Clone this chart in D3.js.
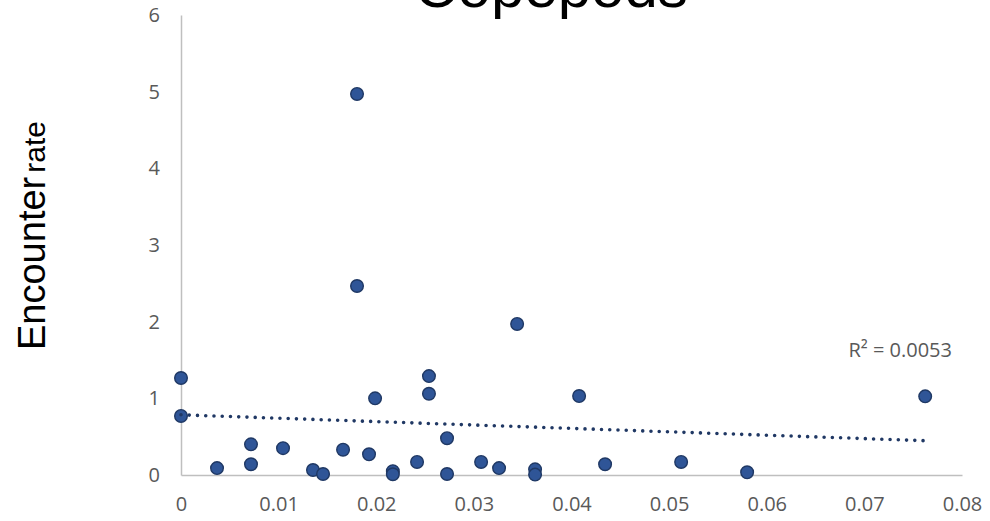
<!DOCTYPE html>
<html>
<head>
<meta charset="utf-8">
<script src="https://cdn.jsdelivr.net/npm/d3@7/dist/d3.min.js"></script>
<style>
  html, body { margin: 0; padding: 0; background: #ffffff; }
  svg { display: block; }
</style>
</head>
<body>
<div id="chart"></div>
<script>
// ---- data ----
const chartTitle = "Copepods";
const yTitleMain = "Encounter";
const yTitleSmall = "rate";
const xValues = [0, 0, 0.00369, 0.00717, 0.00717, 0.01045, 0.01352, 0.01455, 0.0166, 0.01803, 0.01803,
                 0.01926, 0.01988, 0.0217, 0.0217, 0.02418, 0.0254, 0.0254, 0.02725, 0.02725,
                 0.03074, 0.03258, 0.03443, 0.03627, 0.03627, 0.04078, 0.04344, 0.05123, 0.05799, 0.07623];
const yValues = [1.265, 0.77, 0.09, 0.40, 0.14, 0.35, 0.065, 0.013, 0.33, 4.97, 2.465,
                 0.27, 1.0, 0.05, 0.01, 0.17, 1.29, 1.06, 0.48, 0.013,
                 0.17, 0.09, 1.97, 0.074, 0.005, 1.03, 0.14, 0.17, 0.035, 1.026];
const trendX = [0, 0.07623];
const trendY = [0.785, 0.447];
const rSquaredLabel = "R\u00B2 = 0.0053";
const xTicks = [0, 0.01, 0.02, 0.03, 0.04, 0.05, 0.06, 0.07, 0.08];
const xTickLabels = ["0", "0.01", "0.02", "0.03", "0.04", "0.05", "0.06", "0.07", "0.08"];
const yTicks = [0, 1, 2, 3, 4, 5, 6];
const yTickLabels = ["0", "1", "2", "3", "4", "5", "6"];

// ---- layout ----
const W = 990, H = 521;
const plot = { left: 181, right: 962, top: 15, bottom: 475 };

const svg = d3.select("#chart").append("svg")
  .attr("width", W).attr("height", H);

const x = d3.scaleLinear().domain([0, 0.08]).range([plot.left, plot.right]);
const y = d3.scaleLinear().domain([0, 6]).range([plot.bottom, plot.top]);

const tickFont = "'Open Sans', 'Noto Sans', sans-serif";
const axisColor = "#BFBFBF";
const labelColor = "#595959";

// x axis
const xAxis = d3.axisBottom(x).tickValues(xTicks)
  .tickFormat((d, i) => xTickLabels[i]).tickSize(0).tickPadding(22);
const gx = svg.append("g").attr("transform", `translate(0,${plot.bottom})`).call(xAxis);
gx.select(".domain").attr("stroke", axisColor).attr("stroke-width", 1.5);
gx.selectAll("text").attr("fill", labelColor).style("font-family", tickFont).style("font-size", "20px");

// y axis
const yAxis = d3.axisLeft(y).tickValues(yTicks)
  .tickFormat((d, i) => yTickLabels[i]).tickSize(0).tickPadding(21);
const gy = svg.append("g").attr("transform", `translate(${plot.left},0)`).call(yAxis);
gy.select(".domain").attr("stroke", axisColor).attr("stroke-width", 1.5);
gy.selectAll("text").attr("fill", labelColor).style("font-family", tickFont).style("font-size", "20px");

// points
const pts = xValues.map((v, i) => ({ x: v, y: yValues[i] }));
svg.append("g").selectAll("circle").data(pts).join("circle")
  .attr("cx", d => x(d.x)).attr("cy", d => y(d.y)).attr("r", 6.3)
  .attr("fill", "#2F5597").attr("stroke", "#1F3864").attr("stroke-width", 1.4);

// trendline (dotted)
const trend = trendX.map((v, i) => [v, trendY[i]]);
svg.append("path")
  .attr("d", d3.line().x(d => x(d[0])).y(d => y(d[1]))(trend))
  .attr("fill", "none").attr("stroke", "#203864").attr("stroke-width", 3.6)
  .attr("stroke-linecap", "round").attr("stroke-dasharray", "0 8.25");

// R² label
svg.append("text")
  .attr("x", 952).attr("y", 357)
  .attr("text-anchor", "end")
  .attr("fill", labelColor).style("font-family", tickFont).style("font-size", "20px")
  .text(rSquaredLabel);

// title
svg.append("text")
  .attr("x", 551).attr("y", 7)
  .attr("text-anchor", "middle")
  .attr("fill", "#000000")
  .style("font-family", "'Liberation Sans', Arial, sans-serif").style("font-size", "60px")
  .text(chartTitle);

// y-axis title
const yt = svg.append("text")
  .attr("transform", "translate(45,350) rotate(-90)")
  .attr("fill", "#000000")
  .style("font-family", "'Liberation Sans', Arial, sans-serif");
yt.append("tspan").style("font-size", "38px").text(yTitleMain);
yt.append("tspan").style("font-size", "30px").attr("dx", 4).text(yTitleSmall);
</script>
</body>
</html>
